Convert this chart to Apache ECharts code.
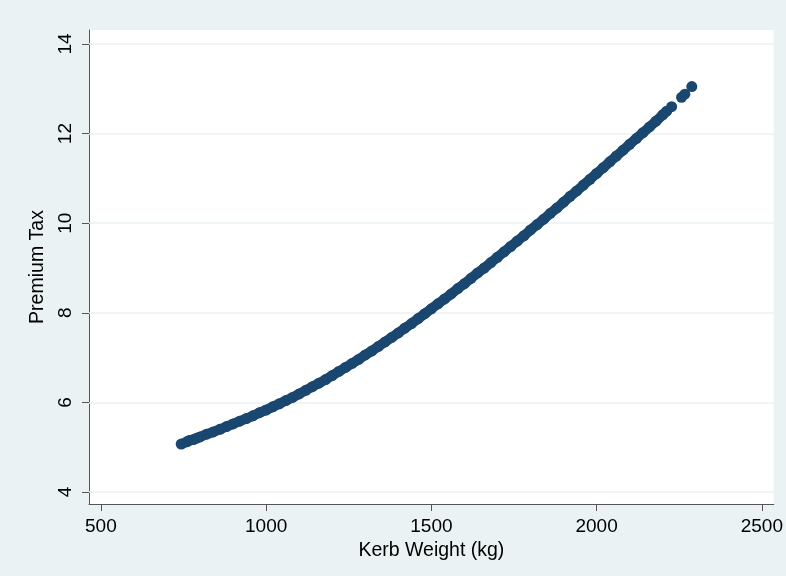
<!DOCTYPE html>
<html>
<head>
<meta charset="utf-8">
<script src="https://cdn.jsdelivr.net/npm/echarts@6/dist/echarts.min.js"></script>
<style>
  html, body { margin: 0; padding: 0; background: #eaf2f3; }
  #main { width: 786px; height: 576px; }
</style>
</head>
<body>
<div id="main"></div>
<script>
// kerb weight (kg) and premium tax
var kerbWeight = [
  743, 760, 768, 780, 790, 800, 820, 840, 860, 880, 900, 920, 940, 960, 980,
  1000, 1020, 1040, 1060, 1080, 1100, 1120, 1140, 1160, 1180, 1200, 1220, 1240, 1260, 1280,
  1300, 1320, 1340, 1360, 1380, 1400, 1420, 1440, 1460, 1480, 1500, 1520, 1540, 1560, 1580,
  1600, 1620, 1640, 1660, 1680, 1700, 1720, 1740, 1760, 1780, 1800, 1820, 1840, 1860, 1880,
  1900, 1920, 1940, 1960, 1980, 2000, 2020, 2040, 2060, 2080, 2100, 2120, 2140, 2160, 2180,
  2200, 2212, 2227, 2257, 2267, 2288
];
var premiumTax = [
  5.07, 5.12, 5.15, 5.17, 5.20, 5.23, 5.29, 5.34, 5.40, 5.46, 5.52, 5.58, 5.64, 5.70, 5.77,
  5.83, 5.90, 5.97, 6.04, 6.11, 6.19, 6.27, 6.35, 6.43, 6.51, 6.60, 6.69, 6.78, 6.87, 6.96,
  7.06, 7.15, 7.25, 7.35, 7.45, 7.55, 7.66, 7.76, 7.87, 7.98, 8.09, 8.20, 8.31, 8.42, 8.54,
  8.65, 8.77, 8.89, 9.00, 9.12, 9.24, 9.36, 9.48, 9.60, 9.72, 9.85, 9.97, 10.09, 10.22, 10.34,
  10.47, 10.60, 10.72, 10.85, 10.98, 11.11, 11.24, 11.37, 11.50, 11.63, 11.76, 11.89, 12.02, 12.15, 12.28,
  12.42, 12.50, 12.60, 12.81, 12.88, 13.05
];
// the cloud of cars is continuous up to this weight, sparse above it
var denseUpTo = 2212;

// tick labels
var xTicks = [500, 1000, 1500, 2000, 2500];
var yTicks = [4, 6, 8, 10, 12, 14];

var points = [];
var densePoints = [];
for (var i = 0; i < kerbWeight.length; i++) {
  points.push([kerbWeight[i], premiumTax[i]]);
  if (kerbWeight[i] <= denseUpTo) densePoints.push([kerbWeight[i], premiumTax[i]]);
}

var font = 'Liberation Sans, Arial, sans-serif';
var axisColor = '#555555';
var navy = '#1a476f';

var myChart = echarts.init(document.getElementById('main'), null, { renderer: 'canvas' });
var option = {
  backgroundColor: '#eaf2f3',
  animation: false,
  grid: {
    left: 89, right: 8, top: 30, bottom: 72,
    show: true, backgroundColor: '#ffffff', borderWidth: 0
  },
  xAxis: {
    type: 'value',
    min: 464, max: 2536,
    name: 'Kerb Weight (kg)',
    nameLocation: 'middle',
    nameGap: 37,
    nameTextStyle: { color: '#000', fontSize: 19.5, fontFamily: font },
    axisLine: { show: true, lineStyle: { color: axisColor, width: 1 } },
    axisTick: { show: true, length: 7, lineStyle: { color: axisColor }, customValues: xTicks },
    axisLabel: {
      color: '#000', fontSize: 19, fontFamily: font, margin: 13, customValues: xTicks,
      formatter: function (v) { return String(v); }
    },
    splitLine: { show: false }
  },
  yAxis: {
    type: 'value',
    min: 3.732, max: 14.3125,
    name: 'Premium Tax',
    nameLocation: 'middle',
    nameGap: 32,
    nameRotate: 90,
    nameTextStyle: { color: '#000', fontSize: 19.5, fontFamily: font },
    axisLine: { show: true, lineStyle: { color: axisColor, width: 1 } },
    axisTick: { show: true, length: 7, lineStyle: { color: axisColor }, customValues: yTicks },
    axisLabel: {
      color: '#000', fontSize: 19, fontFamily: font, margin: 14, rotate: 90, customValues: yTicks,
      formatter: function (v) { return String(v); }
    },
    splitLine: { show: false }
  },
  series: [{
    // horizontal grid lines at the y ticks, under the marks
    type: 'scatter',
    data: [],
    silent: true,
    z: 1,
    markLine: {
      silent: true,
      z: 1,
      symbol: 'none',
      label: { show: false },
      lineStyle: { color: '#eaf2f3', width: 1.5, type: 'solid' },
      data: yTicks.map(function (v) { return { yAxis: v }; })
    }
  }, {
    // thick band joining the dense part of the cloud
    type: 'line',
    data: densePoints,
    showSymbol: false,
    lineStyle: { color: navy, width: 10, cap: 'round', join: 'round' },
    silent: true,
    z: 2
  }, {
    type: 'scatter',
    data: points,
    symbol: 'circle',
    symbolSize: 11,
    itemStyle: { color: navy, opacity: 1 },
    z: 3
  }]
};
myChart.setOption(option);
</script>
</body>
</html>
